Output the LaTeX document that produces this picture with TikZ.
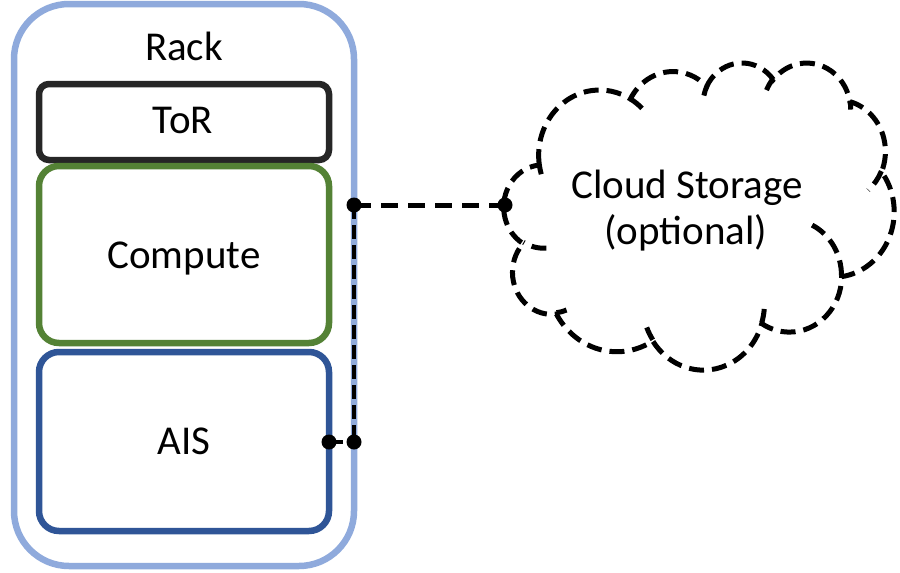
\documentclass[tikz,border=0pt]{standalone}
\usepackage{fontspec}
\setmainfont{Carlito}
\definecolor{rackblue}{HTML}{8FAADC}
\definecolor{tordark}{HTML}{262626}
\definecolor{compgreen}{HTML}{548235}
\definecolor{aisblue}{HTML}{2F5597}
\newcommand\lblfont{\fontsize{41}{49}\selectfont}
% OOXML-style arcTo: wR, hR, start angle (visual), sweep angle
\newcommand\ooArc[4]{\pgfextra{%
  \pgfmathparse{(#3)+mod(atan2((#1)*sin(#3),(#2)*cos(#3))-(#3)+540,360)-180}\global\let\ooTa\pgfmathresult
  \pgfmathparse{(#3)+(#4)+mod(atan2((#1)*sin((#3)+(#4)),(#2)*cos((#3)+(#4)))-((#3)+(#4))+540,360)-180}\global\let\ooTb\pgfmathresult
  } arc[x radius=#1, y radius=#2, start angle=\ooTa, end angle=\ooTb]}
\tikzset{
  boxbase/.style={draw, line width=6.5pt, outer sep=0pt, inner sep=0pt, fill=white},
  rackbox/.style={boxbase, draw=rackblue, rounded corners=55pt, minimum width=340pt, minimum height=562pt},
  torbox/.style={boxbase, draw=tordark, rounded corners=10pt, minimum width=290pt, minimum height=76pt},
  compbox/.style={boxbase, draw=compgreen, rounded corners=20pt, minimum width=290pt, minimum height=177pt},
  aisbox/.style={boxbase, draw=aisblue, rounded corners=20pt, minimum width=290pt, minimum height=179pt},
  lbl/.style={font=\lblfont, anchor=base, inner sep=0pt},
  cloudline/.style={draw=black, line width=5pt, dash pattern=on 15pt off 8pt, fill=white},
  cloudinner/.style={draw=black, line width=5pt, dash pattern=on 15pt off 8pt},
  hconn/.style={draw=black, line width=5pt, dash pattern=on 17pt off 10pt},
  vconn/.style={draw=black, line width=4.5pt, dash pattern=on 14pt off 6pt},
  dotmark/.style={fill=black},
}
\begin{document}
\begin{tikzpicture}[x=1pt,y=-1pt]
\useasboundingbox (0,0) rectangle (900,573);
\fill[white] (0,0) rectangle (900,573);
% rack
\node[rackbox] (rack) at (184,285) {};
\node[lbl] (racklabel) at (184,60) {Rack};
\node[torbox] (tor) at (184,122) {};
\node[lbl] (torlabel) at (183,133) {ToR};
\node[compbox] (compute) at (184,254.5) {};
\node[lbl] (complabel) at (184,268) {Compute};
\node[aisbox] (ais) at (184,441.5) {};
\node[lbl] (aislabel) at (184,454) {AIS};
% cloud
\begin{scope}[shift={(504,62)}, x=0.90278pt, y=-0.71065pt]
\draw[cloudline] (39.00,143.70)
  \ooArc{67.53}{91.90}{-190.48748}{123.78053}
  \ooArc{53.33}{72.67}{-144.10238}{89.94523}
  \ooArc{43.65}{59.45}{-145.80792}{99.72302}
  \ooArc{48.57}{65.95}{-130.98607}{117.24173}
  \ooArc{53.33}{72.73}{-78.70888}{109.02692}
  \ooArc{67.75}{92.20}{-46.26725}{130.26900}
  \ooArc{57.85}{78.67}{0.62502}{114.03333}
  \ooArc{67.52}{92.15}{22.45160}{115.17255}
  \ooArc{77.20}{105.43}{66.24263}{75.71102}
  \ooArc{43.60}{59.18}{-274.94208}{146.73557}
  \ooArc{43.45}{59.45}{-246.82850}{152.51885}
  -- cycle;
\draw[cloudinner]
  (46.93,261.77) \ooArc{43.45}{59.45}{86.74200}{26.42950}
  (69.28,348.99) \ooArc{43.60}{59.18}{73.61047}{11.44747}
  (164.78,390.90) \ooArc{67.52}{92.15}{137.62415}{14.08110}
  (288.27,347.51) \ooArc{67.52}{92.15}{6.45327}{15.99835}
  (341.29,229.54) \ooArc{57.85}{78.67}{-70.29235}{70.91737}
  (417.98,153.54) \ooArc{53.33}{72.73}{30.31803}{27.75150}
  (383.24,54.26) \ooArc{48.57}{65.95}{-13.74433}{14.86037}
  (290.78,39.52) \ooArc{48.57}{65.95}{-149.18145}{18.19878}
  (221.41,47.20) \ooArc{43.65}{59.45}{-163.49427}{17.69355}
  (140.00,51.92) \ooArc{67.53}{91.90}{-66.70695}{12.31935}
  (41.27,157.89) \ooArc{67.53}{91.90}{157.65435}{11.85393};
\end{scope}
\node[lbl] (cs1) at (687,198) {Cloud Storage};
\node[lbl] (cs2) at (686,244) {(optional)};
% connectors
\coordinate (p1) at (354,205);
\coordinate (p2) at (354,442);
\coordinate (cl) at (505,205);
\path[hconn] (p1) -- (cl);
\path[vconn] (p1) -- (p2);
\path[vconn] (ais.east |- p2) -- (p2);
\fill[dotmark] (p1) circle (7.5);
\fill[dotmark] (p2) circle (7.5);
\fill[dotmark] (cl) circle (7.5);
\fill[dotmark] (ais.east |- p2) circle (7.5);
\end{tikzpicture}
\end{document}
